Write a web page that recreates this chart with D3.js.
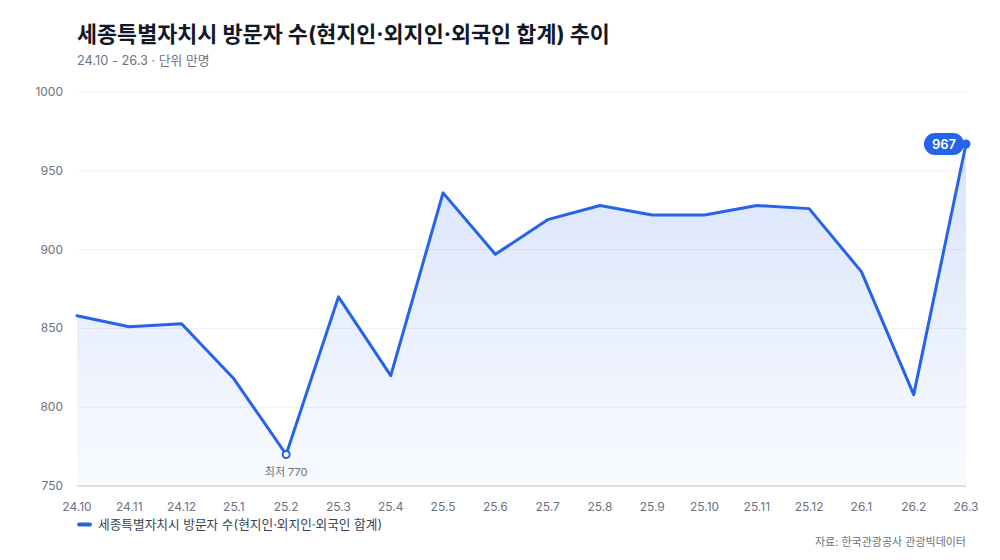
<!DOCTYPE html>
<html><head><meta charset="utf-8">
<script src="https://cdn.jsdelivr.net/npm/d3@7"></script>
<style>
html,body{margin:0;padding:0;background:#fff;}
svg{display:block;font-family:Inter,"Noto Sans CJK KR",sans-serif;}
</style></head>
<body>
<svg id="c" width="1000" height="560"></svg>
<script>
const months = ["24.10","24.11","24.12","25.1","25.2","25.3","25.4","25.5","25.6","25.7","25.8","25.9","25.10","25.11","25.12","26.1","26.2","26.3"];
const visitors = [858,851,853,818,770,870,820,936,897,919,928,922,922,928,926,886,808,967];
const yTicks = [750,800,850,900,950,1000];
const seriesName = "세종특별자치시 방문자 수(현지인·외지인·외국인 합계)";
const titleText = "세종특별자치시 방문자 수(현지인·외지인·외국인 합계) 추이";
const subtitleText = "24.10 - 26.3 · 단위 만명";
const sourceText = "자료: 한국관광공사 관광빅데이터";

const svg = d3.select("#c");
const L = 77, R = 966, T = 92, B = 486;
const x = d3.scalePoint().domain(months).range([L, R]);
const y = d3.scaleLinear().domain([750, 1000]).range([B, T]);
const data = months.map((m,i)=>({m, v:visitors[i]}));

const defs = svg.append("defs");
const g = defs.append("linearGradient").attr("id","ag")
  .attr("gradientUnits","userSpaceOnUse").attr("y1",T).attr("y2",B).attr("x1",0).attr("x2",0);
g.append("stop").attr("offset","0%").attr("stop-color","#2563eb").attr("stop-opacity",0.2);
g.append("stop").attr("offset","100%").attr("stop-color","#2563eb").attr("stop-opacity",0.03);

// title
svg.append("text").attr("x",L).attr("y",42).attr("font-size",21.8).attr("font-weight",700).attr("fill","#111827").text(titleText);
svg.append("text").attr("x",L).attr("y",65).attr("font-size",12.8).attr("fill","#6b7280").text(subtitleText);

// grid
svg.append("g").selectAll("line").data(yTicks).join("line")
  .attr("x1",L).attr("x2",R).attr("y1",d=>y(d)).attr("y2",d=>y(d))
  .attr("stroke", d=>d===750?"#dfe3ea":"#eef1f5").attr("stroke-width", d=>d===750?2:1);
svg.append("g").selectAll("text").data(yTicks).join("text")
  .attr("x",63).attr("y",d=>y(d)+4).attr("text-anchor","end").attr("font-size",12).attr("fill","#6b7280").text(d=>d);

// area
svg.append("path").datum(data)
  .attr("d", d3.area().x(d=>x(d.m)).y0(B).y1(d=>y(d.v)))
  .attr("fill","url(#ag)");
svg.append("path").datum(data)
  .attr("d", d3.line().x(d=>x(d.m)).y(d=>y(d.v)))
  .attr("fill","none").attr("stroke","#2563eb").attr("stroke-width",3).attr("stroke-linejoin","round").attr("stroke-linecap","round");

// x labels
svg.append("g").selectAll("text").data(months).join("text")
  .attr("x",d=>x(d)).attr("y",511).attr("text-anchor","middle").attr("font-size",12).attr("fill","#6b7280").text(d=>d);

// min marker
const minI = visitors.indexOf(d3.min(visitors));
svg.append("circle").attr("cx",x(months[minI])).attr("cy",y(visitors[minI])).attr("r",3.5)
  .attr("fill","#fff").attr("stroke","#2563eb").attr("stroke-width",2);
svg.append("text").attr("x",x(months[minI])).attr("y",y(visitors[minI])+22).attr("text-anchor","middle")
  .attr("font-size",11).attr("fill","#6b7280").text("최저 " + visitors[minI]);

// last marker & badge
const li = visitors.length-1;
const lx = x(months[li]), ly = y(visitors[li]);
svg.append("circle").attr("cx",lx).attr("cy",ly).attr("r",4.5).attr("fill","#2563eb");
svg.append("rect").attr("x",lx-42).attr("y",ly-11).attr("width",40).attr("height",22).attr("rx",11).attr("fill","#2563eb");
svg.append("text").attr("x",lx-22).attr("y",ly+4.5).attr("text-anchor","middle").attr("font-size",13).attr("font-weight",600).attr("fill","#fff").text(visitors[li]);

// legend
svg.append("line").attr("x1",79).attr("x2",90).attr("y1",524.5).attr("y2",524.5).attr("stroke","#2563eb").attr("stroke-width",4).attr("stroke-linecap","round");
svg.append("text").attr("x",98).attr("y",529).attr("font-size",12.7).attr("fill","#374151").text(seriesName);

// source
svg.append("text").attr("x",R).attr("y",546).attr("text-anchor","end").attr("font-size",11).attr("fill","#6b7280").text(sourceText);
</script>
</body></html>
